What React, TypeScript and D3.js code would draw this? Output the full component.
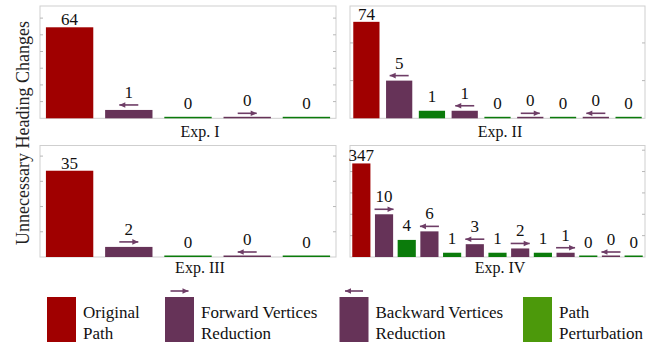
import React, { useEffect, useRef } from 'react';
import * as d3 from 'd3';

const WIDTH = 656;
const HEIGHT = 343;

// bar kinds: O = original path, F = forward vertices reduction,
// B = backward vertices reduction, P = path perturbation
const expNames = ['Exp. I', 'Exp. II', 'Exp. III', 'Exp. IV'];
const exp1Values = [64, 1, 0, 0, 0];
const exp1Kinds = ['O', 'B', 'P', 'F', 'P'];
const exp2Values = [74, 5, 1, 1, 0, 0, 0, 0, 0];
const exp2Kinds = ['O', 'B', 'P', 'B', 'P', 'F', 'P', 'B', 'P'];
const exp3Values = [35, 2, 0, 0, 0];
const exp3Kinds = ['O', 'F', 'P', 'B', 'P'];
const exp4Values = [347, 10, 4, 6, 1, 3, 1, 2, 1, 1, 0, 0, 0];
const exp4Kinds = ['O', 'F', 'P', 'B', 'P', 'B', 'P', 'F', 'P', 'F', 'P', 'B', 'P'];

// linear y axis per panel: top of the axis, tick step, and the level where
// the (much taller) original-path bar is cut off
const yTops = [13.45, 14.9, 22.1, 26.1];
const yTickSteps = [2, 5, 5, 5];
const breakValues = [10.9, 12.8, 17.1, 21.9];

const legendKinds = ['O', 'F', 'B', 'P'];
const legendLabels = [
    ['Original', 'Path'],
    ['Forward Vertices', 'Reduction'],
    ['Backward Vertices', 'Reduction'],
    ['Path', 'Perturbation'],
];

const barColors = { O: '#a00000', F: '#663358', B: '#663358', P: '#0b7b0b' };
const legendColors = { O: '#a00000', F: '#663358', B: '#663358', P: '#4c990b' };
const arrowColor = '#6e3d66';
const FONT = '"Liberation Serif", "Times New Roman", serif';

const drawArrow = (g, cx, y, dir, len = 19) => {
    const x0 = cx - len / 2;
    const x1 = cx + len / 2;
    g.append('line')
        .attr('x1', x0).attr('x2', x1)
        .attr('y1', y).attr('y2', y)
        .attr('stroke', arrowColor)
        .attr('stroke-width', 1.6);
    const tip = dir === 'F' ? x1 : x0;
    const back = dir === 'F' ? x1 - 6 : x0 + 6;
    g.append('path')
        .attr('d', `M${tip},${y}L${back},${y - 2.8}L${back},${y + 2.8}Z`)
        .attr('fill', arrowColor);
};

const App = () => {
    const svgRef = useRef(null);

    useEffect(() => {
        const svg = d3.select(svgRef.current);
        svg.selectAll('*').remove();

        const panels = [
            { values: exp1Values, kinds: exp1Kinds },
            { values: exp2Values, kinds: exp2Kinds },
            { values: exp3Values, kinds: exp3Kinds },
            { values: exp4Values, kinds: exp4Kinds },
        ];
        const cols = [[40, 336], [350, 645]];
        const rows = [[6, 118.3], [145.5, 257]];
        const expLabelX = [200, 500];
        const expLabelY = [137, 273];

        panels.forEach((p, i) => {
            const [x0, x1] = cols[i % 2];
            const [y0, y1] = rows[Math.floor(i / 2)];
            const g = svg.append('g');

            const x = d3.scaleBand()
                .domain(d3.range(p.values.length))
                .range([x0, x1])
                .paddingInner(0.2)
                .paddingOuter(0.1);
            const y = d3.scaleLinear()
                .domain([0, yTops[i]])
                .range([y1, y0]);

            // frame
            g.append('rect')
                .attr('x', x0).attr('y', y0)
                .attr('width', x1 - x0).attr('height', y1 - y0)
                .attr('fill', 'none')
                .attr('stroke', '#cfcfcf')
                .attr('stroke-width', 1);

            // inward ticks on both sides
            const ticks = d3.range(yTickSteps[i], yTops[i], yTickSteps[i]);
            ticks.forEach(t => {
                g.append('line')
                    .attr('x1', x0).attr('x2', x0 + 3)
                    .attr('y1', y(t)).attr('y2', y(t))
                    .attr('stroke', '#b8b8b8');
                g.append('line')
                    .attr('x1', x1 - 3).attr('x2', x1)
                    .attr('y1', y(t)).attr('y2', y(t))
                    .attr('stroke', '#b8b8b8');
            });

            p.values.forEach((v, j) => {
                const kind = p.kinds[j];
                const shown = kind === 'O' ? Math.min(v, breakValues[i]) : v;
                const top = Math.min(y(shown), y1 - 1.5);
                const cx = x(j) + x.bandwidth() / 2;

                g.append('rect')
                    .attr('x', x(j))
                    .attr('y', top)
                    .attr('width', x.bandwidth())
                    .attr('height', y1 - top)
                    .attr('fill', barColors[kind]);

                const hasArrow = kind === 'F' || kind === 'B';
                if (hasArrow) drawArrow(g, cx, y(shown) - 5, kind);

                const labelY = kind === 'O'
                    ? y(shown) - 2
                    : y(shown) - (hasArrow ? 12 : 9);
                g.append('text')
                    .attr('x', cx)
                    .attr('y', labelY)
                    .attr('text-anchor', 'middle')
                    .style('font-family', FONT)
                    .style('font-size', '17px')
                    .attr('fill', '#111')
                    .text(v);
            });

            svg.append('text')
                .attr('x', expLabelX[i % 2])
                .attr('y', expLabelY[Math.floor(i / 2)])
                .attr('text-anchor', 'middle')
                .style('font-family', FONT)
                .style('font-size', '16px')
                .attr('fill', '#111')
                .text(expNames[i]);
        });

        // y axis title
        svg.append('text')
            .attr('transform', 'rotate(-90)')
            .attr('x', -133)
            .attr('y', 29)
            .attr('text-anchor', 'middle')
            .style('font-family', FONT)
            .style('font-size', '18px')
            .attr('fill', '#222')
            .text('Unnecessary Heading Changes');

        // legend
        const swatchX = [47, 165, 339.5, 523];
        legendKinds.forEach((k, i) => {
            const lg = svg.append('g');
            lg.append('rect')
                .attr('x', swatchX[i]).attr('y', 297)
                .attr('width', 29).attr('height', 45)
                .attr('fill', legendColors[k]);
            if (k === 'F' || k === 'B') drawArrow(lg, swatchX[i] + 14.5, 291, k, 18);
            legendLabels[i].forEach((line, li) => {
                lg.append('text')
                    .attr('x', swatchX[i] + 36)
                    .attr('y', 318 + li * 21)
                    .style('font-family', FONT)
                    .style('font-size', '17px')
                    .attr('fill', '#111')
                    .text(line);
            });
        });

        return () => {
            svg.selectAll('*').remove();
        };
    }, []);

    return (
        <svg
            ref={svgRef}
            width={WIDTH}
            height={HEIGHT}
            style={{ position: 'absolute', left: 0, top: 0, background: '#fff' }}
        />
    );
};

export default App;
